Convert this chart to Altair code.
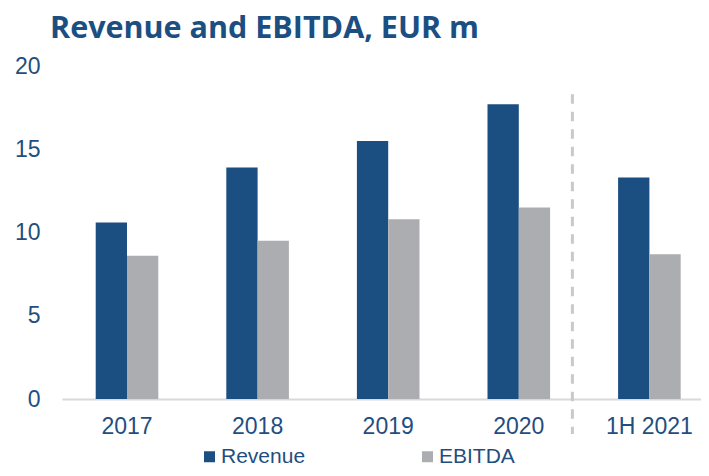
import altair as alt
import pandas as pd

periods = ["2017", "2018", "2019", "2020", "1H 2021"]
revenue = [10.6, 13.9, 15.5, 17.7, 13.3]
ebitda = [8.6, 9.5, 10.8, 11.5, 8.7]
series = ["Revenue", "EBITDA"]
y_ticks = [0, 5, 10, 15, 20]

BLUE = "#1B4F82"
GRAY = "#ACADB1"
TEXT = "#1F4E7F"

rows = []
for p, r, e in zip(periods, revenue, ebitda):
    rows.append({"period": p, "series": "Revenue", "value": r})
    rows.append({"period": p, "series": "EBITDA", "value": e})
df = pd.DataFrame(rows)

bars = alt.Chart(df).mark_bar().encode(
    x=alt.X(
        "period:N",
        sort=periods,
        scale=alt.Scale(paddingInner=0.5207, paddingOuter=0.2068, align=0.624,
                        round=False),
        axis=alt.Axis(
            title=None, labelAngle=0, ticks=False, domainColor="#D9D9D9",
            domainWidth=2, labelFontSize=23, labelColor=TEXT,
            labelFont="Liberation Sans", labelPadding=16,
        ),
    ),
    xOffset=alt.XOffset(
        "series:N", sort=series, scale=alt.Scale(paddingInner=0, paddingOuter=0)
    ),
    y=alt.Y(
        "value:Q",
        scale=alt.Scale(domain=[0, 20]),
        axis=alt.Axis(
            values=y_ticks, title=None, grid=False, domain=False, ticks=False,
            labelFontSize=23, labelColor=TEXT, labelFont="Liberation Sans",
            labelPadding=22,
        ),
    ),
    color=alt.Color(
        "series:N",
        sort=series,
        scale=alt.Scale(domain=series, range=[BLUE, GRAY]),
        legend=alt.Legend(
            title=None, orient="none", legendX=137, legendY=380,
            direction="horizontal", symbolType="square", symbolSize=121,
            symbolStrokeWidth=0, labelFontSize=21, labelFont="Liberation Sans",
            labelColor=TEXT, labelOffset=1, columnPadding=111, padding=0,
        ),
    ),
)

rule = alt.Chart(pd.DataFrame({"a": [0]})).mark_rule(
    strokeDash=[9.5, 8], strokeWidth=3, color="#C9C9C9", xOffset=-77
).encode(
    x=alt.datum("1H 2021"),
    y=alt.datum(18.3),
    y2=alt.datum(-2.1),
)

chart = alt.layer(bars, rule).properties(
    width=639,
    height=333,
    padding={"left": 54, "top": 58, "right": 0, "bottom": 69},
    autosize=alt.AutoSizeParams(type="none"),
    title=alt.Title(
        "Revenue and EBITDA, EUR m", anchor="start", frame="group", dx=-12,
        dy=35, font="Open Sans", fontSize=30.5, fontWeight="bold", color=BLUE,
        baseline="alphabetic", offset=22,
    ),
).configure_view(stroke=None)

chart.save("out.html", embed_options={"renderer": "svg", "actions": False})
